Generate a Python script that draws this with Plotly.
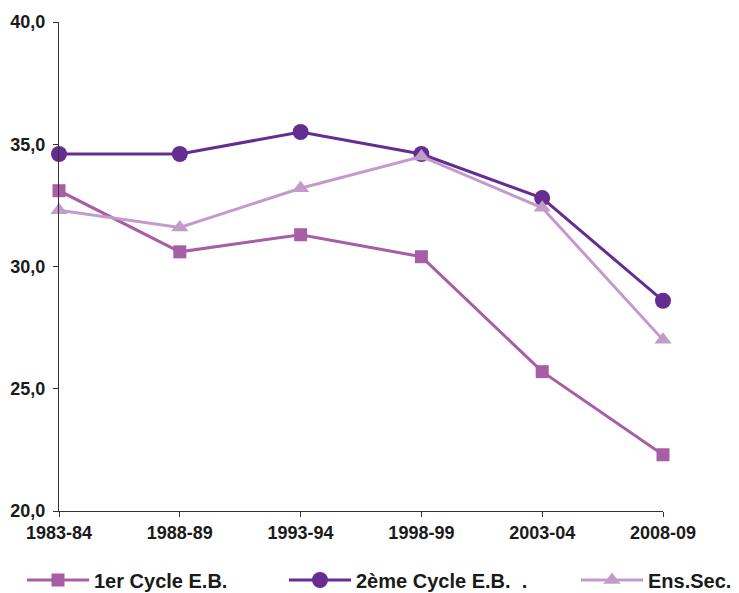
import plotly.graph_objects as go

years = ["1983-84", "1988-89", "1993-94", "1998-99", "2003-04", "2008-09"]
cycle1 = [33.1, 30.6, 31.3, 30.4, 25.7, 22.3]
cycle2 = [34.6, 34.6, 35.5, 34.6, 32.8, 28.6]
ens_sec = [32.3, 31.6, 33.2, 34.5, 32.4, 27.0]
names = ["1er Cycle E.B.", "2ème Cycle E.B.  .", "Ens.Sec."]
yticks = [20, 25, 30, 35, 40]

FONT = "Liberation Sans, Arial, sans-serif"
c1, c2, c3 = "#A85DA7", "#662D91", "#C39BCB"

# page body has an 8px margin, so the figure is sized to fill the rest of the window
W, H = 731, 585

fig = go.Figure()
fig.add_trace(go.Scatter(x=years, y=cycle1, name=names[0], mode="lines+markers",
                         line=dict(color=c1, width=3),
                         marker=dict(symbol="square", size=13, color=c1),
                         legend="legend", cliponaxis=False))
fig.add_trace(go.Scatter(x=years, y=cycle2, name=names[1], mode="lines+markers",
                         line=dict(color=c2, width=3),
                         marker=dict(symbol="circle", size=16, color=c2),
                         legend="legend2", cliponaxis=False))
fig.add_trace(go.Scatter(x=years, y=ens_sec, name=names[2], mode="lines+markers",
                         line=dict(color=c3, width=3),
                         marker=dict(symbol="triangle-up", size=15, color=c3),
                         legend="legend3", cliponaxis=False))

leg_common = dict(orientation="h", yanchor="middle", y=1 - 572 / H, xanchor="left",
                  xref="container", yref="container",
                  font=dict(family=FONT, size=20, color="#1a1a1a", weight="bold"),
                  bgcolor="rgba(0,0,0,0)", itemwidth=62)

fig.update_layout(
    width=W, height=H,
    margin=dict(l=51, r=76, t=14, b=82, autoexpand=False),
    paper_bgcolor="white", plot_bgcolor="white",
    separators=", ",
    showlegend=True,
    legend=dict(x=14 / W, **leg_common),
    legend2=dict(x=276 / W, **leg_common),
    legend3=dict(x=568 / W, **leg_common),
    xaxis=dict(type="category", range=[0, 5], showline=True, linecolor="#333333",
               linewidth=1, ticks="outside", ticklen=5, tickcolor="#333333",
               showgrid=False, zeroline=False,
               tickfont=dict(family=FONT, size=18, color="#1a1a1a", weight="bold")),
    yaxis=dict(range=[20, 40], tickvals=yticks, tickformat=".1f", showline=True,
               linecolor="#333333", linewidth=1, ticks="outside", ticklen=5,
               tickcolor="#333333", showgrid=False, zeroline=False,
               ticklabelstandoff=4,
               tickfont=dict(family=FONT, size=18, color="#1a1a1a", weight="bold")),
)

fig.write_html("out.html")
